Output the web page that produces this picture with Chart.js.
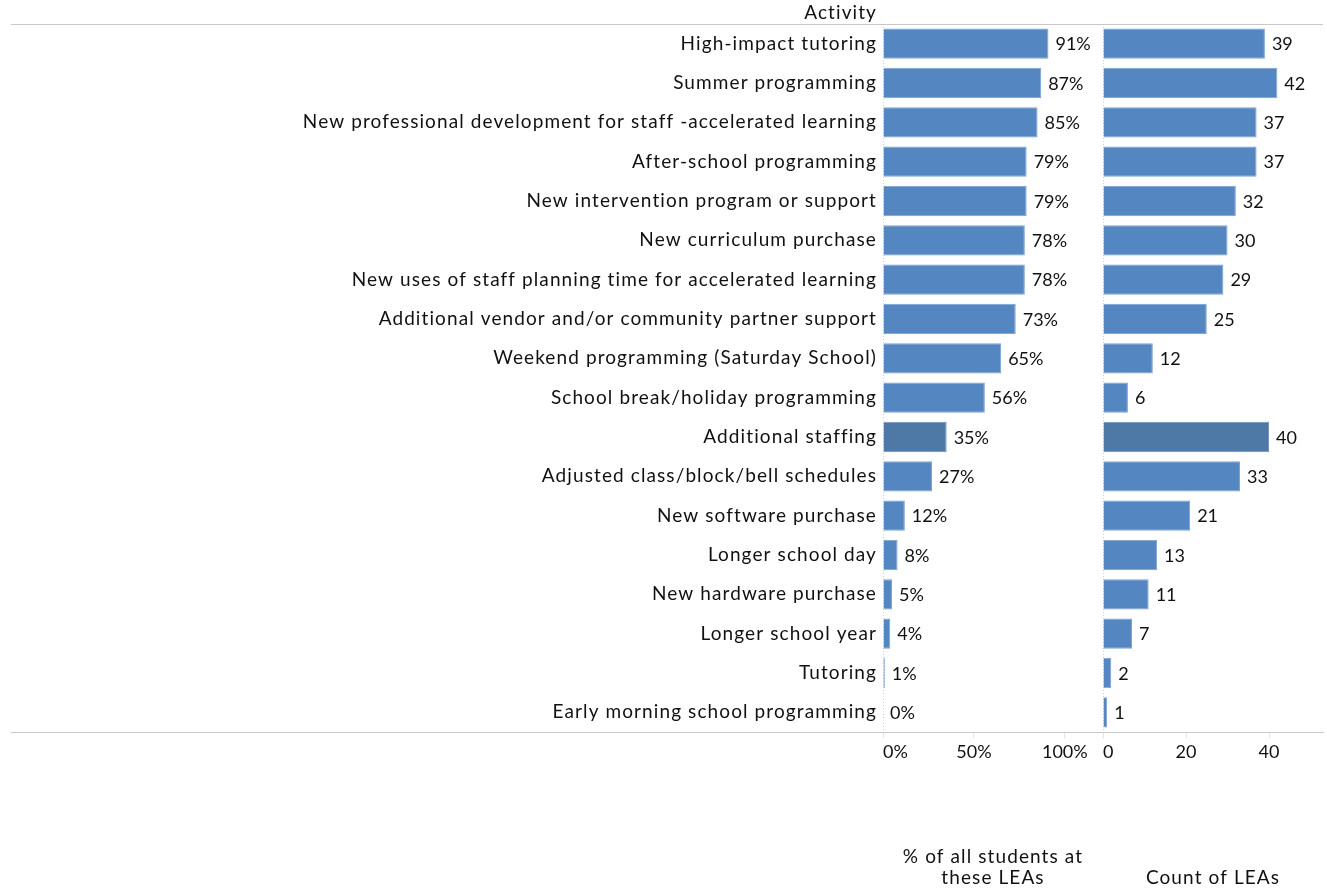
<!DOCTYPE html>
<html>
<head>
<meta charset="utf-8">
<title>Activity</title>
<script src="https://cdn.jsdelivr.net/npm/chart.js@4/dist/chart.umd.min.js"></script>
<style>
  html, body { margin: 0; padding: 0; background: #fff; }
  #wrap { width: 1327px; height: 888px; position: relative; }
</style>
</head>
<body>
<div id="wrap"><canvas id="activityChart"></canvas></div>
<script>
const activities = [
    'High-impact tutoring',
    'Summer programming',
    'New professional development for staff -accelerated learning',
    'After-school programming',
    'New intervention program or support',
    'New curriculum purchase',
    'New uses of staff planning time for accelerated learning',
    'Additional vendor and/or community partner support',
    'Weekend programming (Saturday School)',
    'School break/holiday programming',
    'Additional staffing',
    'Adjusted class/block/bell schedules',
    'New software purchase',
    'Longer school day',
    'New hardware purchase',
    'Longer school year',
    'Tutoring',
    'Early morning school programming'
];
const pctStudents = [91, 87, 85, 79, 79, 78, 78, 73, 65, 56, 35, 27, 12, 8, 5, 4, 1, 0];
const countLEAs = [39, 42, 37, 37, 32, 30, 29, 25, 12, 6, 40, 33, 21, 13, 11, 7, 2, 1];
const pctTicks = [0, 50, 100];
const countTicks = [0, 20, 40];
const highlighted = 'Additional staffing';
const pctTitle = ['% of all students at', 'these LEAs'];
const countTitle = ['Count of LEAs'];

const FONT = 'Lato, "Open Sans", sans-serif';
const TEXT_FONT = '19px ' + FONT;
const TEXT_SPACING = '1.1px';
const BAR = '#5486c1';
const BAR_HI = '#4e79a7';
const barColors = activities.map(a => a === highlighted ? BAR_HI : BAR);
const barBorders = activities.map(a => a === highlighted ? '#6f93bb' : '#7aa1d0');

// keeps only the wanted ticks, plus an empty one at the pane end so 'inner' alignment only shifts the zero label
function pinTicks(values) {
    return function(scale) {
        const list = values.map(v => ({ value: v }));
        list.push({ value: scale.max, hidden: true });
        scale.ticks = list;
    };
}

const paneLines = {
    id: 'paneLines',
    beforeDatasetsDraw(chart) {
        const { ctx, chartArea } = chart;
        const xp = chart.scales.xPct, xc = chart.scales.xCnt;
        ctx.save();
        ctx.strokeStyle = '#d0d0d0';
        ctx.lineWidth = 1;
        ctx.setLineDash([1, 2]);
        [xp.getPixelForValue(0), xc.getPixelForValue(0)].forEach(x => {
            ctx.beginPath();
            ctx.moveTo(Math.round(x) + 0.5, chartArea.top);
            ctx.lineTo(Math.round(x) + 0.5, chartArea.bottom);
            ctx.stroke();
        });
        ctx.setLineDash([]);
        ctx.strokeStyle = '#c8c8c8';
        [chartArea.top, chartArea.bottom].forEach(y => {
            ctx.beginPath();
            ctx.moveTo(11, y + 0.5);
            ctx.lineTo(chartArea.right, y + 0.5);
            ctx.stroke();
        });
        ctx.restore();
    },
    afterDatasetsDraw(chart) {
        const { ctx, chartArea } = chart;
        const y = chart.scales.y;
        ctx.save();
        ctx.fillStyle = '#111';

        // value labels at the bar ends
        ctx.font = '18px ' + FONT;
        ctx.textBaseline = 'middle';
        ctx.textAlign = 'left';
        chart.data.datasets.forEach((ds, di) => {
            const meta = chart.getDatasetMeta(di);
            meta.data.forEach((bar, i) => {
                const txt = ds.data[i] + (ds.suffix || '');
                ctx.fillText(txt, bar.x + 7, bar.y + 1);
            });
        });

        // activity names, header and pane titles
        ctx.font = TEXT_FONT;
        ctx.letterSpacing = TEXT_SPACING;
        ctx.textAlign = 'right';
        const labelRight = y.right - 7;
        chart.data.labels.forEach((lbl, i) => {
            ctx.fillText(lbl, labelRight + 1, y.getPixelForTick(i));
        });
        ctx.textBaseline = 'alphabetic';
        ctx.fillText('Activity', labelRight + 1, chartArea.top - 5);

        ctx.textAlign = 'center';
        [[chart.scales.xPct, pctTitle], [chart.scales.xCnt, countTitle]].forEach(([sc, lines]) => {
            const cx = (sc.left + sc.right) / 2;
            let base = sc.bottom - 4;
            for (let k = lines.length - 1; k >= 0; k--) {
                ctx.fillText(lines[k], cx, base);
                base -= 21;
            }
        });
        ctx.restore();
    }
};

const tickStyle = {
    color: '#111',
    font: { family: FONT, size: 18 },
    padding: 3,
    align: 'inner',
    maxRotation: 0,
    autoSkip: false
};

new Chart(document.getElementById('activityChart'), {
    type: 'bar',
    data: {
        labels: activities,
        datasets: [
            {
                label: '% of all students at these LEAs',
                data: pctStudents,
                suffix: '%',
                xAxisID: 'xPct',
                backgroundColor: barColors,
                borderColor: barBorders,
                borderWidth: 1,
                grouped: false,
                barPercentage: 0.77,
                categoryPercentage: 1
            },
            {
                label: 'Count of LEAs',
                data: countLEAs,
                xAxisID: 'xCnt',
                backgroundColor: barColors,
                borderColor: barBorders,
                borderWidth: 1,
                grouped: false,
                barPercentage: 0.77,
                categoryPercentage: 1
            }
        ]
    },
    options: {
        indexAxis: 'y',
        responsive: true,
        maintainAspectRatio: false,
        animation: false,
        layout: { padding: { top: 24, right: 4, left: 0, bottom: 0 } },
        plugins: {
            legend: { display: false },
            tooltip: { enabled: false }
        },
        scales: {
            y: {
                position: 'left',
                grid: { display: false, drawTicks: false },
                border: { display: false },
                ticks: { display: false, autoSkip: false },
                afterFit(scale) { scale.width = 883; }
            },
            xPct: {
                position: 'bottom',
                stack: 'panes',
                stackWeight: 1,
                min: 0,
                max: 121,
                afterBuildTicks: pinTicks(pctTicks),
                afterFit(scale) { scale.height = 156; },
                grid: {
                    drawOnChartArea: false,
                    tickLength: 6,
                    color: ctx => ctx.tick && ctx.tick.hidden ? 'rgba(0,0,0,0)' : '#e4e4e4'
                },
                border: { display: true, color: '#c8c8c8' },
                ticks: Object.assign({}, tickStyle, {
                    callback: (v, i, ticks) => ticks[i].hidden ? '' : v + '%'
                })
            },
            xCnt: {
                position: 'bottom',
                stack: 'panes',
                stackWeight: 1,
                min: 0,
                max: 53,
                afterBuildTicks: pinTicks(countTicks),
                afterFit(scale) { scale.height = 156; },
                grid: {
                    drawOnChartArea: false,
                    tickLength: 6,
                    color: ctx => ctx.tick && ctx.tick.hidden ? 'rgba(0,0,0,0)' : '#e4e4e4'
                },
                border: { display: true, color: '#c8c8c8' },
                ticks: Object.assign({}, tickStyle, {
                    callback: (v, i, ticks) => ticks[i].hidden ? '' : String(v)
                })
            }
        }
    },
    plugins: [paneLines]
});
</script>
</body>
</html>
